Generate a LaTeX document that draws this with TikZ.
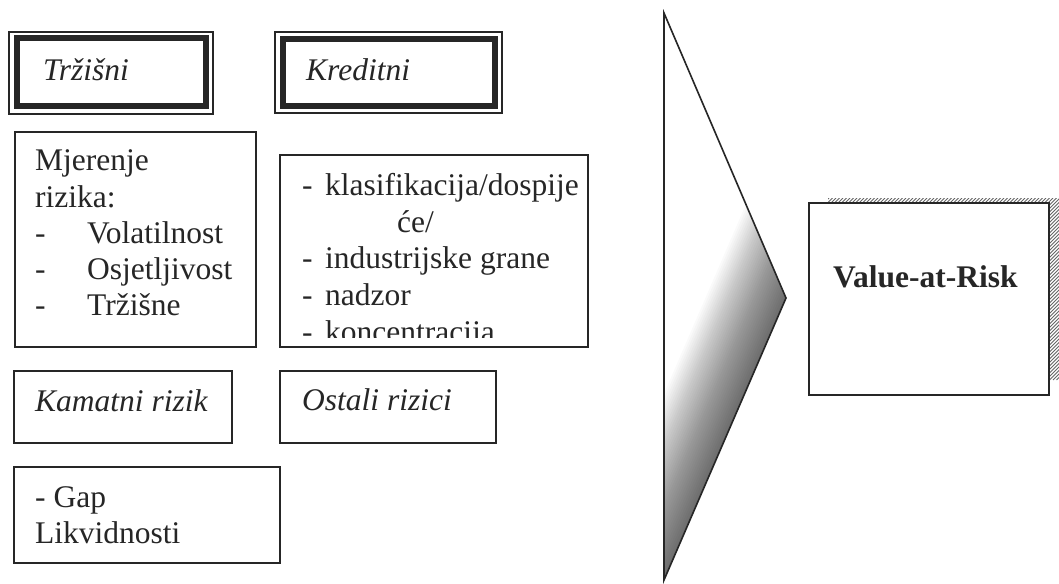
\documentclass[tikz,border=0pt]{standalone}
\usepackage{fontspec}
\setmainfont{Liberation Serif}
\usetikzlibrary{calc}
\begin{document}
\begin{tikzpicture}[x=1pt,y=-1pt,
  boxn/.style={draw=black!85, line width=1.6pt, inner sep=0pt, outer sep=0pt, fill=none},
  thickn/.style={draw=black!85, line width=6pt, inner sep=0pt, outer sep=0pt},
  txt/.style={inner sep=0pt, anchor=base west, font=\fontsize{31.5}{37}\selectfont, text=black!85},
  itxt/.style={txt, font=\fontsize{31.5}{37}\selectfont\itshape},
  btxt/.style={txt, font=\fontsize{31.5}{37}\selectfont\bfseries},
  band/.style={fill=black, opacity=0.02},
  hatchline/.style={draw=black!60, line width=0.9pt}
]
\useasboundingbox (0,0) rectangle (1059,583);
\fill[white] (0,0) rectangle (1059,583);

% header boxes with double border
\node[boxn, minimum width=204, minimum height=82] (trzout) at (111,73) {};
\node[thickn, minimum width=189, minimum height=68] (trzin) at (111.5,72.5) {};
\node[itxt] (trz) at (43,81) {Tržišni};

\node[boxn, minimum width=227, minimum height=81] (kreout) at (388.5,72.5) {};
\node[thickn, minimum width=212, minimum height=67] (krein) at (388.5,72.75) {};
\node[itxt] (kre) at (306,81) {Kreditni};

% content boxes
\node[boxn, minimum width=241, minimum height=215] (mjbox) at (135.5,239.5) {};
\begin{scope}
\clip (15,132) rectangle (256,336);
\node[txt] (mj1) at (35,170) {Mjerenje};
\node[txt] (mj2) at (35,207) {rizika:};
\node[txt] (mjd1) at (35,243) {-};
\node[txt] (mj3) at (87,243) {Volatilnost};
\node[txt] (mjd2) at (35,279) {-};
\node[txt] (mj4) at (87,279) {Osjetljivost};
\node[txt] (mjd3) at (35,315) {-};
\node[txt] (mj5) at (87,315) {Tržišne};
\end{scope}

\node[boxn, minimum width=308, minimum height=192] (krbox) at (434,251) {};
\begin{scope}
\clip (280,155) rectangle (588,337);
\node[txt] (krd1) at (302,195) {-};
\node[txt] (kr1) at (325,195) {klasifikacija/dospije};
\node[txt] (kr2) at (397,232) {će/};
\node[txt] (krd3) at (302,268.5) {-};
\node[txt] (kr3) at (325,268.5) {industrijske grane};
\node[txt] (krd4) at (302,305) {-};
\node[txt] (kr4) at (325,305) {nadzor};
\node[txt] (krd5) at (302,342) {-};
\node[txt] (kr5) at (325,342) {koncentracija};
\end{scope}

\node[boxn, minimum width=218, minimum height=72] (kambox) at (123,407) {};
\node[itxt] (kam) at (35,411) {Kamatni rizik};

\node[boxn, minimum width=216, minimum height=72] (ostbox) at (388,407) {};
\node[itxt] (ost) at (302,410) {Ostali rizici};

\node[boxn, minimum width=266, minimum height=96] (gapbox) at (147,515) {};
\node[txt] (gap1) at (35,507) {- Gap};
\node[txt] (gap2) at (35,543) {Likvidnosti};

% triangle (arrow) with soft shading along lower edge
\coordinate (ttop) at (664,13);
\coordinate (tapex) at (786,298);
\coordinate (tbot) at (664,580);
\coordinate (aext) at (822.6,213.4);
\coordinate (bext) at (651.8,608.2);
\begin{scope}
\clip (ttop) -- (tapex) -- (tbot) -- cycle;
\foreach \w in {2,4,...,74} {
  \fill[band] (aext) -- (bext) -- ($(bext)+(-0.918*\w,-0.397*\w)$) -- ($(aext)+(-0.918*\w,-0.397*\w)$) -- cycle;
}
\end{scope}
\draw[black!85, line width=1.6pt, line join=miter] (ttop) -- (tapex) -- (tbot) -- cycle;

% Value-at-Risk box with hatched shadow
\begin{scope}
\clip (828,198) rectangle (1059,380);
\foreach \x in {640,643.5,...,1062} {
  \draw[hatchline] (\x,380) -- ++(182,-182);
}
\end{scope}
\node[boxn, fill=white, minimum width=240, minimum height=192] (varbox) at (929,299) {};
\node[btxt] (var) at (833,287) {Value-at-Risk};
\end{tikzpicture}
\end{document}
